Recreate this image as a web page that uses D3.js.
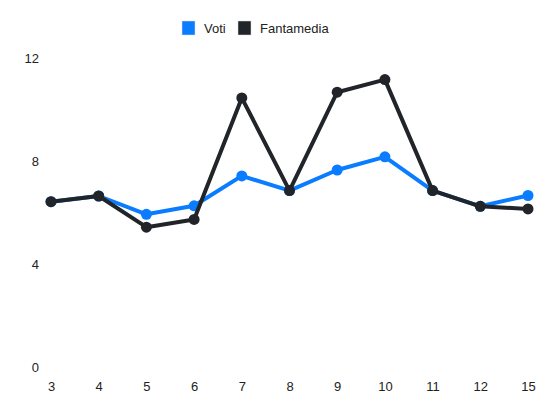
<!DOCTYPE html>
<html><head><meta charset="utf-8">
<script src="https://cdn.jsdelivr.net/npm/d3@7"></script>
<style>body{margin:0;background:#fff}svg{display:block;font-family:"Liberation Sans",Arial,sans-serif}</style>
</head><body><svg id="c" width="550" height="412"></svg>
<script>
const categories = ["3","4","5","6","7","8","9","10","11","12","15"];
const voti = [6.44,6.66,5.95,6.28,7.44,6.87,7.67,8.18,6.87,6.26,6.68];
const fantamedia = [6.44,6.66,5.45,5.75,10.47,6.87,10.69,11.18,6.87,6.26,6.16];
const yTicks = [0,4,8,12];
const seriesNames = ["Voti","Fantamedia"];
const colors = ["#0a7cff","#212529"];

const svg = d3.select("#c");
const x = d3.scalePoint().domain(categories).range([51,528]);
const y = d3.scaleLinear().domain([0,12]).range([367.5,58.5]);

// y axis
const ya = svg.append("g").attr("transform","translate(39,0)")
  .call(d3.axisLeft(y).tickValues(yTicks).tickSize(0).tickPadding(0));
ya.select(".domain").remove();
ya.selectAll("text").attr("font-size",13).attr("fill","#222").attr("font-family","Liberation Sans, Arial, sans-serif");

// x axis
const xa = svg.append("g").attr("transform","translate(0,382)")
  .call(d3.axisBottom(x).tickSize(0).tickPadding(0));
xa.select(".domain").remove();
xa.selectAll("text").attr("font-size",13).attr("fill","#222").attr("dy","0.71em").attr("font-family","Liberation Sans, Arial, sans-serif");

const line = d3.line().x((d,i)=>x(categories[i])).y(d=>y(d));
[voti,fantamedia].forEach((s,k)=>{
  const g = svg.append("g");
  g.append("path").datum(s).attr("d",line).attr("fill","none")
    .attr("stroke",colors[k]).attr("stroke-width",4).attr("stroke-linejoin","round");
  g.selectAll("circle").data(s).join("circle")
    .attr("cx",(d,i)=>x(categories[i])).attr("cy",d=>y(d)).attr("r",5.5).attr("fill",colors[k]);
});

// legend
const leg = svg.append("g");
const legX = [182,238];
seriesNames.forEach((n,k)=>{
  leg.append("rect").attr("x",legX[k]).attr("y",21).attr("width",13).attr("height",14)
    .attr("fill",colors[k]).attr("stroke","#ddd").attr("stroke-width",0.5);
  leg.append("text").attr("x",legX[k]+22).attr("y",28).attr("dy","0.35em")
    .attr("font-size",13).attr("fill","#222").text(n);
});
</script></body></html>
